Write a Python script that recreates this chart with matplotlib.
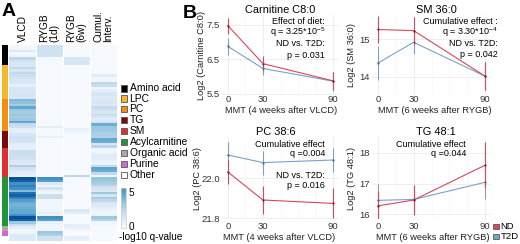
import matplotlib
matplotlib.use('Agg')
import matplotlib.pyplot as plt
import numpy as np
from matplotlib.colors import ListedColormap
from matplotlib.patches import Rectangle
from matplotlib.ticker import FormatStrFormatter, MultipleLocator

plt.rcParams['font.family'] = ['Liberation Sans', 'DejaVu Sans']
plt.rcParams['mathtext.default'] = 'regular'

# ---------------- data: panel A ----------------
columns = ["VLCD", "RYGB\n(1d)", "RYGB\n(6w)", "Cumul.\nInterv."]
cat_names = ["Amino acid", "LPC", "PC", "TG", "SM", "Acylcarnitine",
             "Organic acid", "Purine", "Other"]
cat_counts = [8, 14, 13, 7, 12, 20, 2, 2, 2]
cat_colors = ["#000000", "#f5b72c", "#f0900e", "#7a0a0a", "#e03131",
              "#22943a", "#a9a9a9", "#d765d9", "#ffffff"]

vlcd = ([0.2, 0.3, 1.0, 0.2, 0.4, 2.2, 1.5, 1.3] +
        [1.2, 2.0, 1.3, 2.0, 1.8, 1.4, 1.3, 1.1, 0.6, 1.3, 1.3, 1.3, 1.4, 1.2] +
        [3.5, 3.3, 2.8, 4.2, 3.0, 2.8, 3.0, 2.8, 3.0, 4.2, 2.0, 1.6, 0.8] +
        [0.7, 1.3, 1.6, 1.5, 1.4, 0.8, 0.7] +
        [0.7, 1.8, 1.8, 1.7, 1.6, 1.2, 1.0, 2.6, 1.5, 1.0, 0.9, 0.5] +
        [7.0, 6.5, 5.0, 5.5, 5.0, 3.5, 6.0, 6.5, 5.5, 4.5, 4.0, 3.8, 4.0, 4.2,
         4.2, 5.0, 7.0, 6.5, 3.0, 1.8] +
        [0.8, 0.3] + [0.4, 1.0] + [1.0, 1.0])
rygb_1d = ([1.6, 1.6, 1.6, 1.6, 1.5, 0.1, 0.1, 0.1] +
           [0.05] * 14 +
           [0.05] * 11 + [0.8, 0.1] +
           [0.1, 0.1, 0.6, 0.05, 0.05, 0.05, 0.05] +
           [0.05] * 12 +
           [5.0, 4.5, 1.0, 0.4, 1.5, 0.5, 0.3, 1.8, 1.8, 0.3, 0.2, 0.2, 0.3, 0.4,
            0.8, 0.4, 5.0, 4.5, 0.6, 0.3] +
           [0.3, 0.3] + [3.0, 2.6] + [1.5, 1.5])
rygb_6w = ([0.05] * 5 + [1.3, 1.3, 1.3] +
           [0.05] * 14 +
           [0.05] * 12 + [0.6] +
           [0.3, 0.05, 0.05, 0.05, 0.05, 0.05, 0.05] +
           [0.05] * 11 + [2.2] +
           [0.05] * 13 + [1.2, 0.8] + [0.05] * 4 + [0.8] +
           [0.7, 0.2] + [0.05, 0.05] + [0.8, 0.6])
cumul = ([0.05] * 8 +
         [0.05, 0.05, 0.05, 0.1, 0.9, 0.2, 0.2, 2.2, 1.8, 0.3, 0.8, 1.2, 1.3, 1.0] +
         [1.2, 1.2, 1.0, 2.0, 1.6, 1.3, 1.8, 1.2, 0.9, 1.5, 4.0, 3.0, 3.0] +
         [2.8, 2.6, 2.5, 4.2, 4.0, 1.2, 2.3] +
         [0.4, 0.3, 0.7, 0.9, 0.9, 0.6, 0.4, 2.0, 4.3, 4.0, 2.0, 0.3] +
         [3.2, 3.0, 2.8, 2.0, 1.4, 1.0, 3.0, 1.4, 2.8, 2.2, 1.2, 1.0, 0.6, 0.4,
          0.3, 0.5, 3.0, 2.4, 0.3, 0.2] +
         [0.05, 0.05] + [0.05, 0.05] + [0.05, 0.05])

# ---------------- data: panel B ----------------
mmt = [0, 30, 90]
c8_nd, c8_nd_err = [7.48, 6.38, 5.88], [0.23, 0.22, 0.27]
c8_t2d, c8_t2d_err = [6.88, 6.24, 5.87], [0.25, 0.20, 0.27]
sm_nd, sm_nd_err = [15.26, 15.23, 14.02], [0.35, 0.37, 0.37]
sm_t2d, sm_t2d_err = [14.37, 14.92, 14.02], [0.46, 0.30, 0.37]
pc_nd, pc_nd_err = [22.03, 21.89, 21.873], [0.058, 0.07, 0.075]
pc_t2d, pc_t2d_err = [22.115, 22.077, 22.09], [0.066, 0.06, 0.06]
tg_nd, tg_nd_err = [16.27, 16.46, 17.60], [0.50, 0.50, 0.75]
tg_t2d, tg_t2d_err = [16.45, 16.48, 17.04], [0.55, 0.45, 0.55]

ND_COL = "#d6485b"
T2D_COL = "#79a2c8"

W, H = 520, 244
fig = plt.figure(figsize=(W / 100, H / 100), dpi=100)


def px_axes(x0, y0, x1, y1):
    return fig.add_axes([x0 / W, 1 - y1 / H, (x1 - x0) / W, (y1 - y0) / H])


# ---------------- Panel A ----------------
mat = np.array([vlcd, rygb_1d, rygb_6w, cumul]).T
axh = px_axes(9, 45, 117, 241)
axh.imshow(mat, cmap='Blues', vmin=0, vmax=8, aspect='auto',
           interpolation='nearest')
for i in range(1, 4):
    axh.axvline(i - 0.5, color='white', lw=0.9)
axh.set_axis_off()
trans = axh.get_xaxis_transform()
for j, lab in enumerate(columns):
    axh.text(j, 1 + 3 / 196, lab, rotation=90, ha='center', va='bottom',
             multialignment='left', fontsize=7.3, transform=trans,
             linespacing=1.0)

cat_idx = np.repeat(np.arange(len(cat_names)), cat_counts)[:, None]
axc = px_axes(2, 45, 8, 241)
axc.imshow(cat_idx, cmap=ListedColormap(cat_colors), vmin=-0.5,
           vmax=len(cat_names) - 0.5, aspect='auto', interpolation='nearest')
axc.set_axis_off()

axcb = px_axes(121, 188, 126, 228)
axcb.imshow(np.linspace(5, 0, 60)[:, None], cmap='Blues', vmin=0, vmax=8,
            aspect='auto')
axcb.set_xticks([])
axcb.set_yticks([])
for s in axcb.spines.values():
    s.set_color('#cccccc')
    s.set_linewidth(0.5)

# ---------------- Panel B ----------------
panels = [
    dict(box=(222, 15, 339, 95), ylim=(5.47, 7.79), yticks=[5.5, 6.5, 7.5], fmt='%.1f',
         nd=(c8_nd, c8_nd_err), t2d=(c8_t2d, c8_t2d_err),
         ylabel="Log2 (Carnitine C8:0)", ylx=201.5, xpad=0.0),
    dict(box=(372, 15, 491, 95), ylim=(13.52, 15.645), yticks=[14, 15], fmt='%d',
         nd=(sm_nd, sm_nd_err), t2d=(sm_t2d, sm_t2d_err),
         ylabel="Log2 (SM 36:0)", ylx=351, xpad=0.0),
    dict(box=(222, 138, 339, 219), ylim=(21.795, 22.2), yticks=[21.8, 22.0], fmt='%.1f',
         nd=(pc_nd, pc_nd_err), t2d=(pc_t2d, pc_t2d_err),
         ylabel="Log2 (PC 38:6)", ylx=197, xpad=2.4),
    dict(box=(372, 138, 491, 219), ylim=(15.84, 18.49), yticks=[16, 17, 18], fmt='%d',
         nd=(tg_nd, tg_nd_err), t2d=(tg_t2d, tg_t2d_err),
         ylabel="Log2 (TG 48:1)", ylx=351, xpad=2.4),
]
for p in panels:
    x0, y0, x1, y1 = p['box']
    ax = px_axes(x0, y0, x1, y1)
    ax.set_xlim(-5, 95)
    ax.set_ylim(*p['ylim'])
    ax.set_xticks(mmt)
    ax.set_yticks(p['yticks'])
    ax.yaxis.set_major_formatter(FormatStrFormatter(p['fmt']))
    ax.xaxis.set_minor_locator(MultipleLocator(15))
    ax.grid(True, which='major', color='#ebebeb', lw=0.6)
    ax.grid(True, which='minor', axis='x', color='#f3f3f3', lw=0.4)
    ax.set_axisbelow(True)
    for s in ax.spines.values():
        s.set_visible(False)
    ax.tick_params(length=0, labelsize=6.8, colors='#333333')
    ax.tick_params(axis='y', pad=1.5)
    ax.tick_params(axis='x', pad=p['xpad'])
    ax.tick_params(which='minor', length=0)
    for (vals, errs), col in ((p['t2d'], T2D_COL), (p['nd'], ND_COL)):
        ax.errorbar(mmt, vals, yerr=errs, color=col, lw=0.8, elinewidth=0.8,
                    capsize=0, marker='o', ms=1.6,
                    mfc='#7a2030' if col == ND_COL else '#4a6a88', mec='none')
    ax.set_ylabel(p['ylabel'], fontsize=6.7, color='#222222')
    ax.yaxis.set_label_coords((p['ylx'] - x0) / (x1 - x0), 0.5)
    ax.yaxis.label.set_verticalalignment('center')

# overlay for annotations
ov = fig.add_axes([0, 0, 1, 1], facecolor='none')
ov.set_xlim(0, W)
ov.set_ylim(H, 0)
ov.set_axis_off()

ov.text(2, 11, "A", fontsize=14, fontweight='bold', va='center', ha='left')
ov.text(183, 14, "B", fontsize=14, fontweight='bold', va='center', ha='left')

ys = [88.3, 98.5, 109, 119.8, 130.8, 142, 153, 163.8, 174.8]
for name, col, y in zip(cat_names, cat_colors, ys):
    ov.add_patch(Rectangle((121, y - 3.2), 6.4, 6.4, facecolor=col,
                           edgecolor='#555555', lw=0.6))
    ov.text(129.5, y, name, fontsize=7.4, va='center', ha='left')
ov.text(128.5, 192.5, "5", fontsize=7.2, va='center', ha='left')
ov.text(128.5, 226.5, "0", fontsize=7.2, va='center', ha='left')
ov.text(119, 237.5, "-log10 q-value", fontsize=7.2, va='center', ha='left')

titles = [("Carnitine C8:0", 280, 10), ("SM 36:0", 436, 10),
          ("PC 38:6", 276, 132), ("TG 48:1", 436, 132)]
for t, cx, cy in titles:
    ov.text(cx, cy, t, fontsize=7.9, ha='center', va='center')
xlabels = [("MMT (4 weeks after VLCD)", 281, 110.5), ("MMT (6 weeks after RYGB)", 435, 110.5),
           ("MMT (4 weeks after VLCD)", 279, 238), ("MMT (6 weeks after RYGB)", 433, 238)]
for t, cx, cy in xlabels:
    ov.text(cx, cy, t, fontsize=6.7, ha='center', va='center', color='#222222')

af = 6.5
for txt, y in zip(["Effect of diet:", "q = 3.25*10$^{-5}$", "ND vs. T2D:", "p = 0.031"],
                  [21.7, 32.3, 43.3, 55]):
    ov.text(325, y, txt, fontsize=af, ha='right', va='center')
for txt, y in zip(["Cumulative effect :", "q = 3.30*10$^{-4}$", "ND vs. T2D:", "p = 0.042"],
                  [21.7, 32.3, 43.3, 54.5]):
    ov.text(498, y, txt, fontsize=af, ha='right', va='center')
for txt, y in zip(["Cumulative effect", "q =0.004"], [144.5, 153.5]):
    ov.text(325, y, txt, fontsize=af, ha='right', va='center')
for txt, y in zip(["ND vs. T2D:", "p = 0.016"], [175, 185.5]):
    ov.text(325, y, txt, fontsize=af, ha='right', va='center')
for txt, y in zip(["Cumulative effect", "q =0.044"], [144.5, 153.5]):
    ov.text(466, y, txt, fontsize=af, ha='right', va='center')

for lab, col, y in (("ND", ND_COL, 226.5), ("T2D", T2D_COL, 236.5)):
    ov.add_patch(Rectangle((493, y - 2.8), 5.6, 5.6, facecolor=col,
                           edgecolor='#444444', lw=0.5))
    ov.text(500.5, y, lab, fontsize=6.8, ha='left', va='center')

fig.savefig("out.png", dpi=100)
